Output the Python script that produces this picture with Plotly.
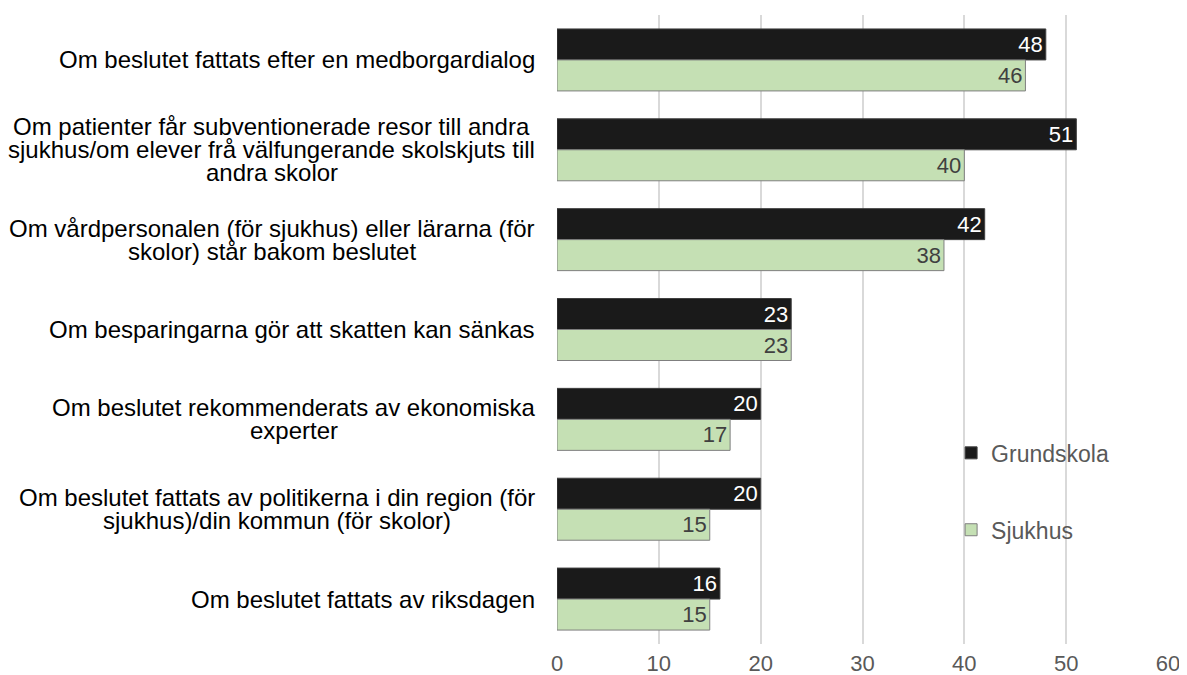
import plotly.graph_objects as go

categories = [
    "Om beslutet fattats efter en medborgardialog",
    "Om patienter får subventionerade resor till andra<br>sjukhus/om elever frå välfungerande skolskjuts till<br>andra skolor",
    "Om vårdpersonalen (för sjukhus) eller lärarna (för<br>skolor) står bakom beslutet",
    "Om besparingarna gör att skatten kan sänkas",
    "Om beslutet rekommenderats av ekonomiska<br>experter",
    "Om beslutet fattats av politikerna i din region (för<br>sjukhus)/din kommun (för skolor)",
    "Om beslutet fattats av riksdagen",
]
grundskola = [48, 51, 42, 23, 20, 20, 16]
sjukhus = [46, 40, 38, 23, 17, 15, 15]
x_ticks = [0, 10, 20, 30, 40, 50, 60]

# ungefärliga teckenbredder (Arial/Helvetica, per 1000 em)
char_w = {" ": 278, "(": 333, ")": 333, "/": 278, "O": 778, "c": 500, "f": 278,
          "i": 222, "j": 222, "k": 500, "l": 222, "m": 833, "r": 333, "s": 500,
          "t": 278, "v": 500, "x": 500, "y": 500}


def text_width(s, size):
    return sum(char_w.get(ch, 556) for ch in s) * size / 1000


fig = go.Figure()
fig.add_trace(go.Bar(
    y=categories, x=grundskola, orientation="h", name="Grundskola",
    marker=dict(color="#1a1a1a", line=dict(color="#404040", width=1)),
    text=grundskola, textposition="inside", insidetextanchor="end", textangle=0,
    textfont=dict(color="white", size=22), legendgroup="a",
))
fig.add_trace(go.Bar(
    y=categories, x=sjukhus, orientation="h", name="Sjukhus",
    marker=dict(color="#c5e0b4", line=dict(color="#7f7f7f", width=1)),
    text=sjukhus, textposition="inside", insidetextanchor="end", textangle=0,
    textfont=dict(color="#404040", size=22), legendgroup="b",
))

# kategorietiketter, en annotation per rad (tätare radavstånd, centrerat block)
fs = 24
line_h = 23
for c in categories:
    rows = c.split("<br>")
    n = len(rows)
    block_w = max(text_width(r, fs) for r in rows)
    for i, row in enumerate(rows):
        fig.add_annotation(
            x=0, xref="paper", y=c, yref="y", text=row, showarrow=False,
            xanchor="center", yanchor="middle",
            xshift=-22 - block_w / 2, yshift=((n - 1) / 2 - i) * line_h,
            font=dict(size=fs, color="black"),
        )

fig.update_layout(
    width=1187, height=675,
    margin=dict(l=549, r=27, t=7, b=39),
    plot_bgcolor="white", paper_bgcolor="white",
    font=dict(family="Liberation Sans, Arial, sans-serif"),
    barmode="group", bargap=0.31, bargroupgap=0,
    uniformtext=dict(minsize=22, mode="show"),
    legend=dict(
        x=0.645, y=0.338, xanchor="left", yanchor="top",
        font=dict(size=23, color="#595959"), bgcolor="rgba(0,0,0,0)",
        tracegroupgap=44, traceorder="grouped",
    ),
    xaxis=dict(
        range=[0, 60], tickvals=x_ticks, showgrid=True, gridcolor="#d9d9d9",
        gridwidth=2, zeroline=False, tickfont=dict(size=22, color="#595959"),
        showline=False, ticklabelstandoff=4,
    ),
    yaxis=dict(autorange="reversed", showticklabels=False, showgrid=False),
)

fig.write_html("out.html")
